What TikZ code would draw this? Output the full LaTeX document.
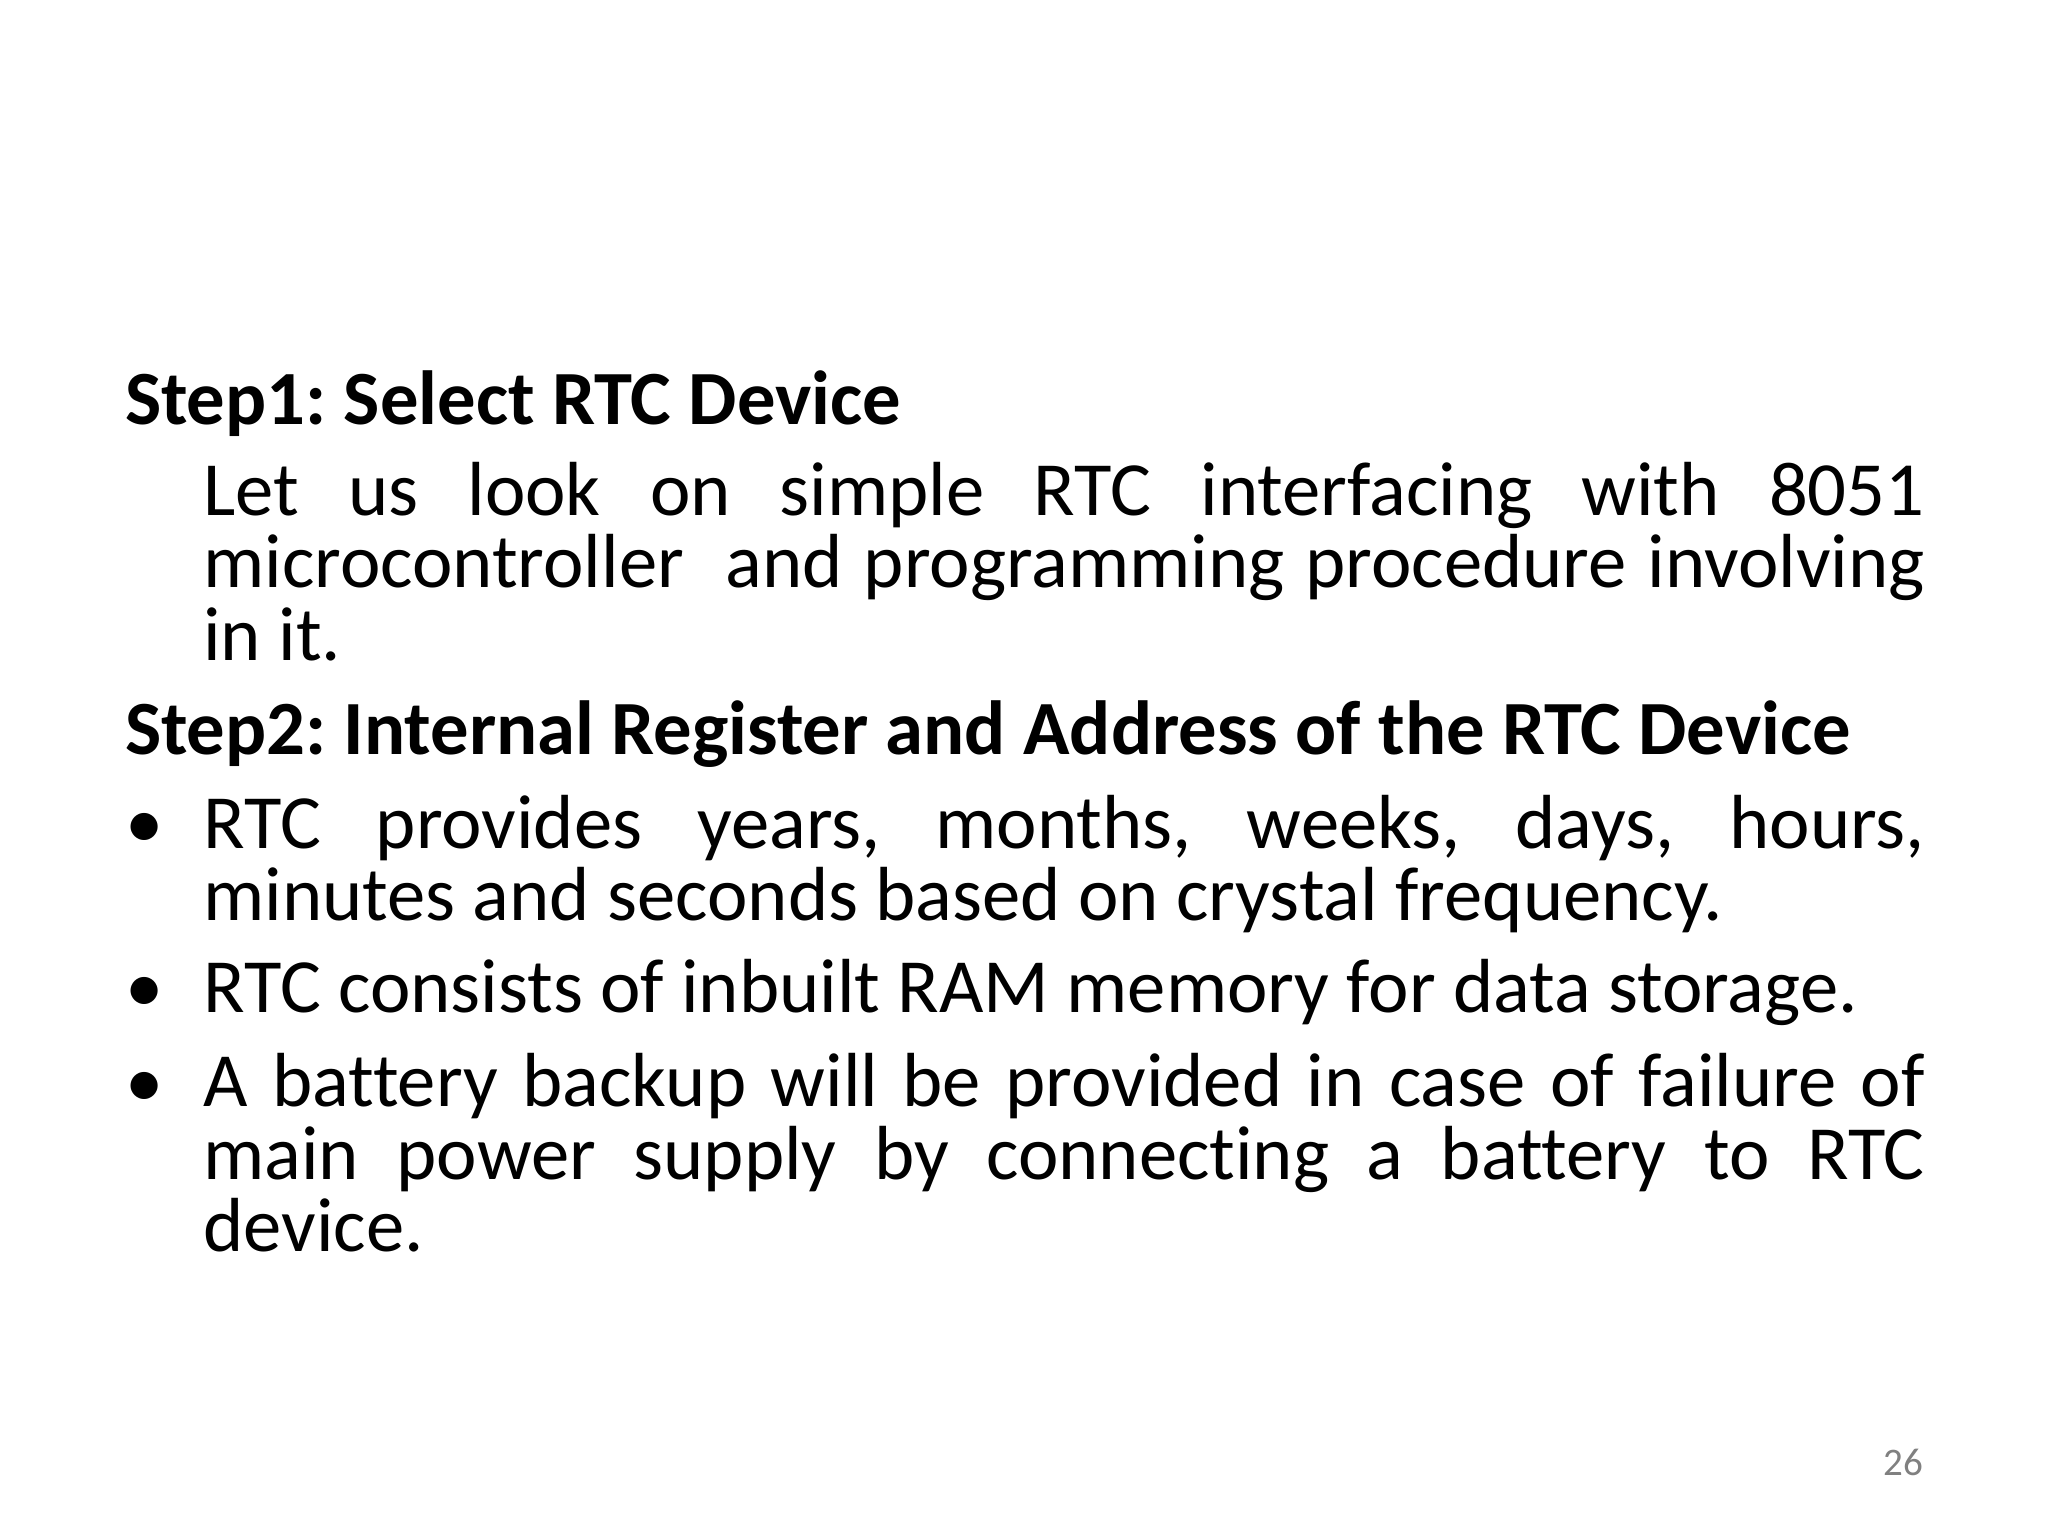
\documentclass[tikz,border=0pt]{standalone}
\usepackage{fontspec}
\setmainfont[Ligatures={NoCommon}]{Carlito}
\frenchspacing
\hyphenpenalty=10000
\exhyphenpenalty=10000
\begin{document}
\begin{tikzpicture}[x=1cm,y=1cm,
  body/.style={anchor=north west,inner sep=0pt,text width=13.18cm,align=justify,font=\fontsize{16.7}{15.8}\selectfont},
  head/.style={anchor=base west,inner sep=0pt,font=\fontsize{16.7}{15.8}\selectfont\bfseries},
  bul/.style={anchor=base west,inner sep=0pt,font=\fontsize{16.7}{15.8}\selectfont}]
\useasboundingbox (0,0) rectangle (15.68,11.76);
\def\Y#1{11.76-#1/100}
\node[head] (h1) at (0.95,{\Y{325}}) {Step1: Select RTC Device};
\node[body] (p1) at (1.55,{\Y{395}+0.42}) {Let us look on simple RTC interfacing with 8051\linebreak microcontroller\ \ and programming procedure involving\linebreak in it.};
\node[head] (h2) at (0.95,{\Y{578}}) {Step2: Internal Register and Address of the RTC Device};
\node[bul] (b1) at (0.95,{\Y{650}}) {•};
\node[body] (p2) at (1.55,{\Y{650}+0.42}) {RTC provides years, months, weeks, days, hours,\linebreak minutes and seconds based on crystal frequency.};
\node[bul] (b2) at (0.95,{\Y{775}}) {•};
\node[bul] (p3) at (1.55,{\Y{775}}) {RTC consists of inbuilt RAM memory for data storage.};
\node[bul] (b3) at (0.95,{\Y{848}}) {•};
\node[body] (p4) at (1.55,{\Y{848}+0.42}) {A battery backup will be provided in case of failure of\linebreak main power supply by connecting a battery to RTC\linebreak device.};
\node[anchor=base east,inner sep=0pt,text=gray,font=\fontsize{8.5}{10}\selectfont] (pg) at (14.73,{\Y{1130}}) {26};
\end{tikzpicture}
\end{document}
